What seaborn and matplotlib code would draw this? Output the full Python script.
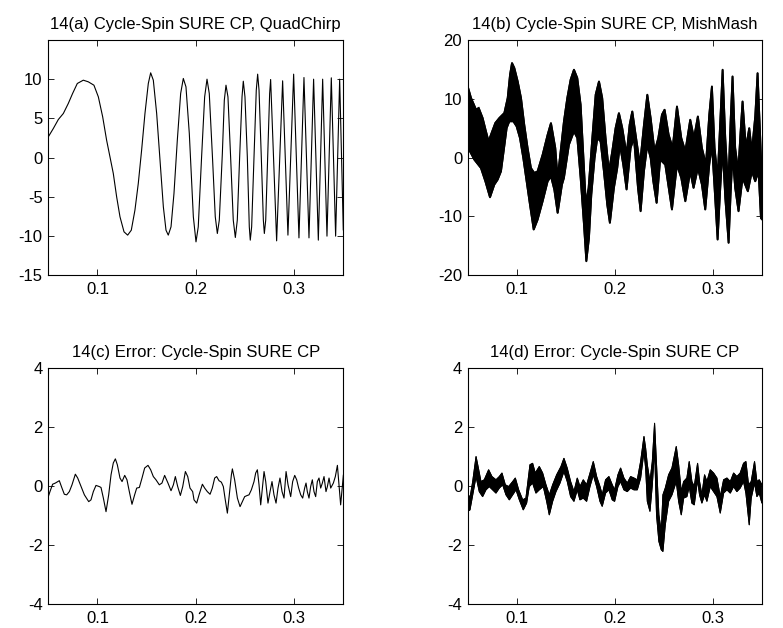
import numpy as np
import matplotlib
matplotlib.use("Agg")
import matplotlib.pyplot as plt
import seaborn as sns

# ---------------- data ----------------
# 14(a) QuadChirp reconstruction (single line)
quad_t = [0.0500, 0.0551, 0.0602, 0.0653, 0.0703, 0.0747, 0.0795, 0.0856, 0.0907, 0.0964,
          0.1009, 0.1053, 0.1093, 0.1127, 0.1161, 0.1195, 0.1229, 0.1270, 0.1307, 0.1344,
          0.1381, 0.1415, 0.1449, 0.1483, 0.1517, 0.1541, 0.1568, 0.1602, 0.1636, 0.1670,
          0.1697, 0.1720, 0.1748, 0.1778, 0.1812, 0.1846, 0.1873, 0.1900, 0.1934, 0.1975,
          0.2002, 0.2025, 0.2059, 0.2090, 0.2114, 0.2137, 0.2171, 0.2198, 0.2219, 0.2239,
          0.2270, 0.2290, 0.2307, 0.2327, 0.2354, 0.2381, 0.2402, 0.2422, 0.2446, 0.2470,
          0.2483, 0.2500, 0.2524, 0.2544, 0.2554, 0.2568, 0.2592, 0.2615, 0.2629, 0.2643,
          0.2666, 0.2687, 0.2697, 0.2711, 0.2731, 0.2751, 0.2761, 0.2822, 0.2883, 0.2937,
          0.2995, 0.3049, 0.3100, 0.3151, 0.3198, 0.3246, 0.3290, 0.3334, 0.3378, 0.3422,
          0.3463, 0.3500]
quad_y = [2.64, 3.70, 4.85, 5.62, 6.89, 8.17, 9.45, 9.87, 9.66, 9.23,
          7.74, 5.19, 2.21, 0.09, -2.04, -5.02, -7.57, -9.49, -9.91, -9.28,
          -6.72, -3.32, 0.94, 5.62, 9.45, 10.81, 9.87, 5.62, -0.34, -6.30,
          -9.28, -9.91, -8.85, -4.60, 2.21, 8.17, 10.09, 9.02, 3.06, -7.57,
          -10.77, -8.85, 0.09, 7.74, 10.00, 8.17, -0.34, -7.57, -9.70, -8.00,
          0.51, 7.32, 9.23, 7.74, 0.09, -8.00, -10.21, -8.00, 0.09, 7.74,
          9.74, 7.74, 0.09, -8.85, -10.55, -8.85, 0.09, 8.60, 10.64, 8.60,
          0.09, -8.00, -9.70, -8.00, 0.09, 8.17, 9.96, -10.64, 9.79, -9.91,
          10.64, -10.26, 10.21, -10.26, 10.00, -10.55, 10.00, -10.04, 10.17, -10.04,
          10.00, -9.28]

# 14(b) MishMash: upper and lower edge of the dense black band
mish_upper_t = [0.0500, 0.0534, 0.0585, 0.0612, 0.0652, 0.0686, 0.0713, 0.0737, 0.0781, 0.0822,
                0.0873, 0.0907, 0.0931, 0.0951, 0.0975, 0.1009, 0.1043, 0.1076, 0.1110, 0.1144,
                0.1178, 0.1212, 0.1263, 0.1314, 0.1348, 0.1392, 0.1416, 0.1450,
                0.1480, 0.1514, 0.1548, 0.1582, 0.1616, 0.1650, 0.1677, 0.1704, 0.1731, 0.1769,
                0.1803, 0.1837, 0.1870, 0.1904, 0.1938, 0.1972, 0.2006, 0.2040, 0.2074, 0.2118,
                0.2149, 0.2176, 0.2210, 0.2254, 0.2295, 0.2329, 0.2363, 0.2403, 0.2441,
                0.2478, 0.2505, 0.2546, 0.2587, 0.2631, 0.2675, 0.2716, 0.2766, 0.2804, 0.2844,
                0.2885, 0.2926, 0.2960, 0.2987, 0.3014, 0.3045, 0.3072, 0.3096, 0.3123, 0.3153,
                0.3177, 0.3197, 0.3224, 0.3255, 0.3279, 0.3299, 0.3333, 0.3367, 0.3394, 0.3428,
                0.3452, 0.3479, 0.3499]
mish_upper_y = [12.11, 10.13, 8.14, 8.43, 6.72, 4.45, 2.75, 3.89, 5.87, 6.72,
                7.57, 10.13, 14.10, 16.09, 15.23, 12.96, 10.13, 5.59, 1.62, -1.79,
                -2.64, -2.35, 0.48, 3.89, 5.87, 1.62, -3.49, 1.62,
                6.16, 10.13, 13.25, 14.95, 13.53, 8.99, 0.48, -8.03, -5.19, 3.32,
                10.70, 12.96, 10.13, 3.32, -2.35, 1.05, 5.02, 7.57, 5.02, 0.48,
                5.59, 7.86, 3.89, -1.22, 5.59, 10.70, 6.72, 1.05, 3.32,
                7.29, 8.14, 3.89, 1.62, 8.71, 3.32, 1.05, 6.44, 3.32, 7.01,
                1.62, -1.22, 7.29, 12.11, 1.62, -3.49, 6.16, 14.95, 3.32, -5.19,
                6.16, 13.82, 1.62, -2.35, 4.45, 9.56, 1.62, 5.02, 1.05, 7.01,
                14.38, 3.32, -5.19]
mish_lower_t = [0.0500, 0.0523, 0.0568, 0.0635, 0.0680, 0.0727, 0.0771, 0.0805, 0.0839, 0.0866,
                0.0897, 0.0924, 0.0965, 0.0998, 0.1032, 0.1066, 0.1100, 0.1134, 0.1172, 0.1212,
                0.1263, 0.1314, 0.1348, 0.1382, 0.1416, 0.1460,
                0.1480, 0.1531, 0.1582, 0.1616, 0.1650, 0.1684, 0.1708, 0.1735, 0.1759, 0.1792,
                0.1820, 0.1853, 0.1887, 0.1921, 0.1948, 0.1989, 0.2023, 0.2050, 0.2084, 0.2118,
                0.2159, 0.2193, 0.2234, 0.2261, 0.2295, 0.2329, 0.2363, 0.2390, 0.2424, 0.2464,
                0.2478, 0.2512, 0.2580, 0.2631, 0.2675, 0.2716, 0.2766, 0.2800, 0.2844, 0.2885,
                0.2919, 0.2960, 0.2987, 0.3014, 0.3045, 0.3072, 0.3096, 0.3123, 0.3157, 0.3177,
                0.3197, 0.3224, 0.3258, 0.3299, 0.3353, 0.3394, 0.3428, 0.3462, 0.3486, 0.3499]
mish_lower_y = [2.75, 1.05, -0.37, -1.79, -4.06, -6.78, -4.62, -3.77, -2.35, 1.05,
                5.02, 6.16, 6.16, 5.30, 3.32, -0.09, -4.06, -8.03, -12.28, -10.58,
                -7.46, -4.06, -3.21, -5.47, -9.45, -4.62,
                -3.49, 2.18, 4.45, 3.32, -3.49, -11.43, -17.67, -13.70, -6.33, -0.09,
                3.32, 2.75, -2.35, -8.03, -11.15, -5.19, -1.79, 2.18, -1.22, -5.47,
                1.62, 3.32, -5.19, -9.16, -2.35, 2.18, -0.09, -4.06, -7.75, 0.48,
                -0.65, -1.22, -8.88, -1.22, -3.49, -7.46, -2.35, -5.19, -1.79, -4.62,
                -8.88, -1.22, 2.18, -5.19, -13.99, -5.19, 1.62, -6.89, -14.55, -6.33,
                0.48, -5.19, -9.16, -3.49, -5.76, -2.35, -4.06, -2.35, -10.30, -10.58]

# 14(c) error, QuadChirp (single line)
errc_t = [0.0500, 0.0517, 0.0544, 0.0572, 0.0612, 0.0639, 0.0663, 0.0687, 0.0714, 0.0741,
          0.0775, 0.0799, 0.0833, 0.0867, 0.0911, 0.0934, 0.0958, 0.0985, 0.1019, 0.1036,
          0.1060, 0.1087, 0.1114, 0.1138, 0.1161, 0.1182, 0.1202, 0.1229, 0.1250, 0.1277,
          0.1300, 0.1324, 0.1351, 0.1378, 0.1399, 0.1426, 0.1453, 0.1480, 0.1514, 0.1541,
          0.1568, 0.1595, 0.1629, 0.1656, 0.1683, 0.1717, 0.1748, 0.1772, 0.1792, 0.1816,
          0.1843, 0.1867, 0.1894, 0.1918, 0.1941, 0.1968,
          0.1982, 0.2009, 0.2033, 0.2067, 0.2090, 0.2117, 0.2145, 0.2168, 0.2192, 0.2212,
          0.2236, 0.2260, 0.2280, 0.2297, 0.2321, 0.2341, 0.2362, 0.2372, 0.2395, 0.2423,
          0.2450, 0.2473, 0.2497, 0.2524, 0.2541, 0.2565, 0.2592, 0.2609, 0.2626, 0.2643,
          0.2660, 0.2677, 0.2694, 0.2711, 0.2734, 0.2755, 0.2775, 0.2795, 0.2816, 0.2836,
          0.2856, 0.2877, 0.2897, 0.2918, 0.2938, 0.2965, 0.2985, 0.3006, 0.3026, 0.3046,
          0.3067, 0.3087, 0.3107, 0.3121, 0.3134, 0.3151, 0.3168, 0.3185, 0.3202, 0.3219,
          0.3236, 0.3253, 0.3270, 0.3287, 0.3304, 0.3324, 0.3338, 0.3355, 0.3372, 0.3399,
          0.3419, 0.3440, 0.3456, 0.3473, 0.3501]
errc_y = [-0.36, -0.19, 0.06, 0.10, 0.18, -0.07, -0.28, -0.30, -0.19, 0.04,
          0.40, 0.27, -0.02, -0.30, -0.53, -0.47, -0.19, 0.02, -0.02, -0.05,
          -0.41, -0.87, -0.30, 0.38, 0.78, 0.92, 0.72, 0.27, 0.15, 0.36,
          0.21, -0.19, -0.62, -0.30, -0.07, -0.05, 0.27, 0.61, 0.70, 0.55,
          0.32, 0.21, 0.04, 0.10, 0.36, 0.10, -0.16, 0.04, 0.32, -0.02,
          -0.32, -0.02, 0.49, 0.32, -0.07, -0.19,
          -0.47, -0.58, -0.30, 0.06, -0.07, -0.19, -0.28, -0.07, 0.27, 0.32,
          0.18, 0.13, -0.02, -0.41, -0.92, -0.30, 0.38, 0.58, 0.21, -0.41,
          -0.70, -0.53, -0.36, -0.32, -0.30, -0.13, 0.15, 0.44, 0.55, 0.04,
          -0.64, -0.07, 0.49, 0.15, -0.58, -0.19, 0.15, -0.30, -0.58, -0.07,
          0.27, -0.19, -0.41, 0.49, 0.04, -0.36, 0.15, 0.36, 0.21, -0.07,
          -0.30, -0.41, -0.07, 0.10, -0.19, -0.41, -0.02, 0.21, -0.19, -0.36,
          0.15, 0.27, -0.07, 0.10, 0.32, -0.19, -0.02, 0.27, -0.07, 0.10,
          0.32, 0.70, 0.04, -0.64, 0.38]

# 14(d) error, MishMash: upper and lower edge of the band
errd_upper_t = [0.0500, 0.0523, 0.0551, 0.0585, 0.0612, 0.0635, 0.0669, 0.0713, 0.0747, 0.0788,
                0.0822, 0.0849, 0.0883, 0.0917, 0.0958, 0.0985, 0.1019, 0.1060, 0.1093, 0.1134,
                0.1161, 0.1188, 0.1229, 0.1263, 0.1297, 0.1331, 0.1365, 0.1406, 0.1450,
                0.1480, 0.1514, 0.1548, 0.1582, 0.1616, 0.1643, 0.1677, 0.1711, 0.1745, 0.1779,
                0.1813, 0.1847, 0.1870, 0.1904, 0.1938, 0.1972, 0.1996, 0.2030, 0.2057, 0.2091,
                0.2125, 0.2159, 0.2193, 0.2227, 0.2261, 0.2295, 0.2312, 0.2329, 0.2356, 0.2380,
                0.2403, 0.2423, 0.2447, 0.2471,
                0.2488, 0.2512, 0.2546, 0.2580, 0.2624, 0.2648, 0.2675, 0.2699, 0.2732, 0.2756,
                0.2783, 0.2807, 0.2841, 0.2861, 0.2885, 0.2912, 0.2936, 0.2970, 0.3004, 0.3038,
                0.3072, 0.3106, 0.3140, 0.3174, 0.3208, 0.3241, 0.3275, 0.3309, 0.3333, 0.3360,
                0.3387, 0.3421, 0.3445, 0.3469, 0.3496]
errd_upper_y = [-0.24, -0.41, 0.15, 1.00, 0.55, 0.15, 0.21, 0.55, 0.32, 0.21,
                0.32, 0.44, 0.04, -0.02, 0.15, 0.27, -0.13, -0.47, -0.41, 0.72,
                0.77, 0.44, 0.66, 0.44, 0.04, -0.30, 0.04, 0.38, 0.66,
                0.94, 0.60, 0.15, -0.19, 0.27, -0.02, 0.21, 0.04, 0.43, 0.83,
                0.32, -0.02, -0.30, 0.21, 0.32, 0.04, -0.13, 0.38, 0.61, 0.27,
                0.10, 0.32, 0.27, 0.21, 0.83, 1.68, 1.28, 0.72, 0.15, 0.83,
                2.13, 0.72, -0.98, -1.55,
                -0.30, -0.07, 0.38, 0.61, 1.34, 0.72, -0.19, 0.15, 0.27, 0.83,
                0.15, -0.02, 0.77, 0.15, -0.30, 0.38, 0.15, 0.55, 0.44, 0.27,
                -0.36, 0.21, 0.27, 0.15, 0.44, 0.32, 0.44, 0.77, 0.83, 0.04,
                0.15, 0.83, 0.15, 0.21, 0.04]
errd_lower_t = [0.0500, 0.0523, 0.0551, 0.0585, 0.0618, 0.0652, 0.0686, 0.0720, 0.0754, 0.0788,
                0.0822, 0.0856, 0.0890, 0.0924, 0.0958, 0.0992, 0.1026, 0.1066, 0.1100, 0.1127,
                0.1161, 0.1195, 0.1229, 0.1270, 0.1304, 0.1331, 0.1365, 0.1399, 0.1440,
                0.1480, 0.1514, 0.1548, 0.1582, 0.1616, 0.1643, 0.1677, 0.1711, 0.1745, 0.1779,
                0.1813, 0.1847, 0.1870, 0.1904, 0.1938, 0.1972, 0.1996, 0.2030, 0.2057, 0.2091,
                0.2125, 0.2159, 0.2193, 0.2227, 0.2261, 0.2295, 0.2312, 0.2329, 0.2356, 0.2380,
                0.2403, 0.2423, 0.2447, 0.2471,
                0.2488, 0.2512, 0.2546, 0.2580, 0.2624, 0.2648, 0.2675, 0.2699, 0.2732, 0.2756,
                0.2783, 0.2807, 0.2841, 0.2861, 0.2885, 0.2912, 0.2936, 0.2970, 0.3004, 0.3038,
                0.3072, 0.3106, 0.3140, 0.3174, 0.3208, 0.3241, 0.3275, 0.3309, 0.3333, 0.3367,
                0.3387, 0.3421, 0.3445, 0.3469, 0.3496]
errd_lower_y = [-0.86, -0.81, -0.30, 0.32, -0.19, -0.36, -0.13, -0.02, -0.13, -0.24,
                -0.07, 0.04, -0.30, -0.47, -0.30, -0.13, -0.47, -0.81, -0.58, -0.02,
                0.10, -0.24, -0.13, -0.02, -0.52, -0.98, -0.52, -0.19, 0.10,
                0.49, 0.15, -0.36, -0.52, -0.13, -0.47, -0.41, -0.52, -0.02, 0.38,
                -0.02, -0.52, -0.69, -0.24, -0.13, -0.47, -0.52, -0.02, 0.15, -0.13,
                -0.19, -0.07, -0.13, -0.13, 0.27, 1.17, 0.61, -0.52, -0.86, 0.04,
                1.28, -0.98, -1.88, -2.16,
                -2.22, -1.32, -0.52, -0.30, 0.15, -0.52, -0.98, -0.41, -0.36, -0.02,
                -0.58, -0.64, 0.21, -0.30, -0.58, -0.30, -0.52, -0.02, -0.19, -0.36,
                -0.92, -0.24, -0.13, -0.24, -0.02, -0.19, -0.07, 0.15, -0.24, -1.32,
                -0.41, 0.10, -0.36, -0.24, -0.58]

titles = ["14(a) Cycle-Spin SURE CP, QuadChirp",
          "14(b) Cycle-Spin SURE CP, MishMash",
          "14(c) Error: Cycle-Spin SURE CP",
          "14(d) Error: Cycle-Spin SURE CP"]
xticks = [0.1, 0.2, 0.3]
xticklabels = ["0.1", "0.2", "0.3"]
yticks_a = [-15, -10, -5, 0, 5, 10]
yticks_b = [-20, -10, 0, 10, 20]
yticks_err = [-4, -2, 0, 2, 4]

# ---------------- style ----------------
sns.set_theme(style="white")
plt.rcParams.update({
    "font.family": ["Liberation Sans", "DejaVu Sans"],
    "axes.unicode_minus": False,
    "axes.edgecolor": "black",
    "axes.linewidth": 0.8,
    "xtick.direction": "in",
    "ytick.direction": "in",
    "xtick.bottom": True, "xtick.top": True,
    "ytick.left": True, "ytick.right": True,
    "xtick.major.size": 4, "ytick.major.size": 4,
    "xtick.major.width": 0.6, "ytick.major.width": 0.6,
    "xtick.color": "black", "ytick.color": "black",
    "xtick.labelsize": 12, "ytick.labelsize": 12,
    "text.color": "black",
})

fig = plt.figure(figsize=(7.83, 6.28), dpi=100)
W, H = 783.0, 628.0
ax_a = fig.add_axes([48.3 / W, 1 - 275 / H, 295 / W, 235 / H])
ax_b = fig.add_axes([467.7 / W, 1 - 275 / H, 294.6 / W, 235 / H])
ax_c = fig.add_axes([48.3 / W, 1 - 604 / H, 295 / W, 236 / H])
ax_d = fig.add_axes([467.7 / W, 1 - 604 / H, 294.6 / W, 236 / H])


def band(ax, ut, uy, lt, ly, lw):
    xs = np.concatenate([np.asarray(ut), np.asarray(lt)[::-1]])
    ys = np.concatenate([np.asarray(uy), np.asarray(ly)[::-1]])
    ax.fill(xs, ys, color="black", linewidth=lw, edgecolor="black")
    sns.lineplot(x=ut, y=uy, ax=ax, color="black", linewidth=lw, estimator=None, sort=False)
    sns.lineplot(x=lt, y=ly, ax=ax, color="black", linewidth=lw, estimator=None, sort=False)


sns.lineplot(x=quad_t, y=quad_y, ax=ax_a, color="black", linewidth=0.8, estimator=None, sort=False)
band(ax_b, mish_upper_t, mish_upper_y, mish_lower_t, mish_lower_y, 1.3)
sns.lineplot(x=errc_t, y=errc_y, ax=ax_c, color="black", linewidth=0.8, estimator=None, sort=False)
band(ax_d, errd_upper_t, errd_upper_y, errd_lower_t, errd_lower_y, 0.7)

for ax, title, yt, yl in [(ax_a, titles[0], yticks_a, (-15, 15)),
                          (ax_b, titles[1], yticks_b, (-20, 20)),
                          (ax_c, titles[2], yticks_err, (-4, 4)),
                          (ax_d, titles[3], yticks_err, (-4, 4))]:
    ax.set_xlim(0.05, 0.35)
    ax.set_ylim(*yl)
    ax.set_xticks(xticks)
    ax.set_xticklabels(xticklabels)
    ax.set_yticks(yt)
    ax.set_yticklabels([str(v) for v in yt])
    ax.set_xlabel("")
    ax.set_ylabel("")
    ax.tick_params(axis="x", pad=5)
    ax.tick_params(axis="y", pad=4)
    ax.set_title(title, fontsize=12, pad=8)
    for s in ax.spines.values():
        s.set_visible(True)
        s.set_color("black")
        s.set_linewidth(0.8)

fig.savefig("out.png", dpi=100)
